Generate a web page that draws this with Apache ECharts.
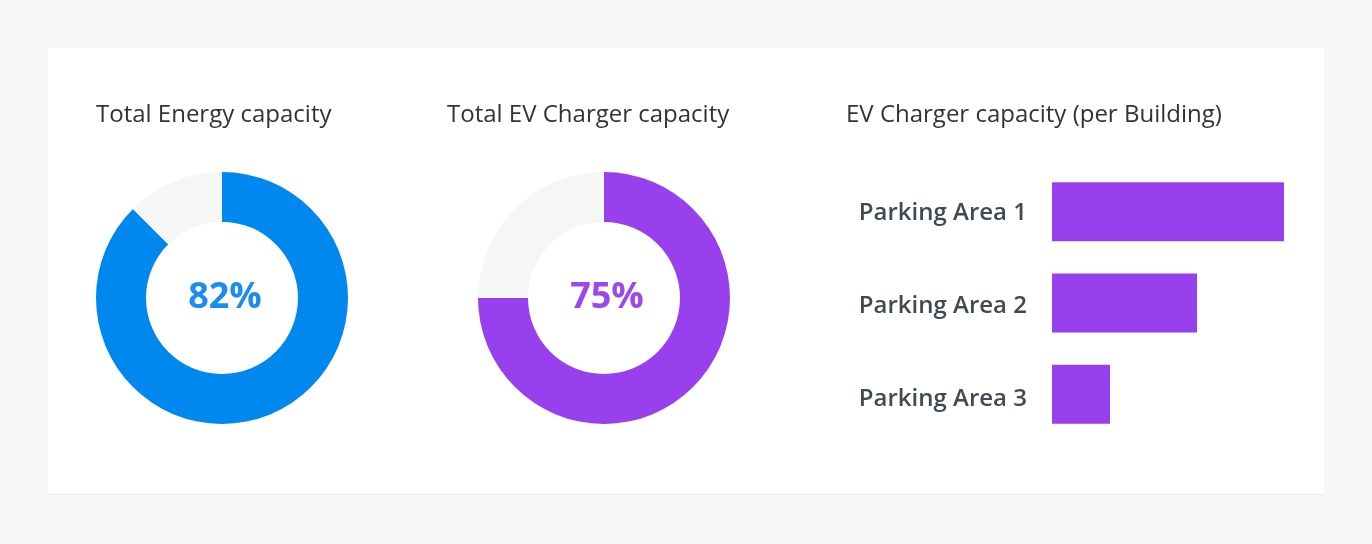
<!DOCTYPE html>
<html>
<head>
<meta charset="utf-8">
<script src="https://cdn.jsdelivr.net/npm/echarts@6/dist/echarts.min.js"></script>
<style>
html,body{margin:0;padding:0;background:#f6f7f7;}
#c{width:1372px;height:544px;}
</style>
</head>
<body>
<div id="c"></div>
<script>
const titles = ['Total Energy capacity', 'Total EV Charger capacity', 'EV Charger capacity (per Building)'];
// centre labels as printed
const energyLabel = '82%';
const evLabel = '75%';
// arc shares as drawn in the picture (percent of the full ring)
const energyArc = 87.5;
const evArc = 75;
const areas = ['Parking Area 1', 'Parking Area 2', 'Parking Area 3'];
const areaValues = [40, 25, 10];

const BLUE = '#0088ee';
const PURPLE = '#9940ee';
const TRACK = '#f5f7f7';
const FONT = 'Open Sans';

function donut(arc, text, color, textColor, cx) {
  return {
    type: 'pie',
    center: [cx, 298],
    radius: [76, 126],
    startAngle: 90,
    clockwise: true,
    silent: true,
    animation: false,
    label: { show: false },
    labelLine: { show: false },
    data: [
      { value: arc, itemStyle: { color: color },
        label: { show: true, position: 'center', formatter: text, offset: [3, 0],
                 fontFamily: FONT, fontSize: 36, fontWeight: 700, color: textColor } },
      { value: 100 - arc, itemStyle: { color: TRACK } }
    ]
  };
}

const labelStyle = { fontFamily: FONT, fontSize: 24, fontWeight: 600, color: '#3f4a52' };

const chart = echarts.init(document.getElementById('c'), null, { renderer: 'canvas' });
chart.setOption({
  backgroundColor: '#f6f7f7',
  animation: false,
  graphic: [
    { type: 'rect', shape: { x: 48, y: 48, width: 1276, height: 447 }, style: { fill: '#e6e8e8' }, z: -10 },
    { type: 'rect', shape: { x: 48, y: 48, width: 1276, height: 446 }, style: { fill: '#ffffff' }, z: -9 }
  ],
  title: [
    { text: titles[0], left: 96, top: 103 },
    { text: titles[1], left: 447, top: 103 },
    { text: titles[2], left: 846, top: 103 }
  ].map(t => Object.assign(t, { padding: 0, textStyle: { fontFamily: FONT, fontSize: 24, fontWeight: 400, color: '#2f3438' } })),
  grid: { left: 1052, width: 232, top: 166, height: 274, containLabel: false },
  xAxis: { type: 'value', min: 0, max: 40, show: false },
  yAxis: {
    type: 'category', data: areas, inverse: true,
    axisLine: { show: false }, axisTick: { show: false }, splitLine: { show: false },
    axisLabel: {
      margin: 25,
      formatter: (v, i) => '{r' + i + '|' + v + '}',
      rich: {
        r0: Object.assign({ padding: [3, 0, 0, 0] }, labelStyle),
        r1: Object.assign({ padding: [6, 0, 0, 0] }, labelStyle),
        r2: Object.assign({ padding: [9, 0, 0, 0] }, labelStyle)
      }
    }
  },
  series: [
    donut(energyArc, energyLabel, BLUE, '#1a8def', 222),
    donut(evArc, evLabel, PURPLE, '#9c48ee', 604),
    { type: 'bar', data: areaValues, barWidth: 59, silent: true,
      itemStyle: { color: PURPLE } }
  ]
});
</script>
</body>
</html>
